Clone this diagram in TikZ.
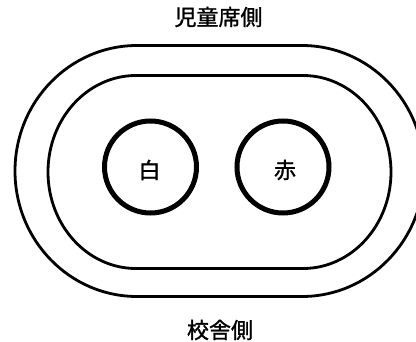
\documentclass[tikz,border=0pt]{standalone}
\usepackage{fontspec}
\newfontfamily\jp[FakeBold=1.2]{Noto Sans CJK JP}
\begin{document}
\begin{tikzpicture}[x=1pt,y=1pt,
  track/.style={line width=2.8pt},
  ring/.style={circle,draw,line width=5pt,minimum size=92pt,inner sep=0pt},
  lbl/.style={font=\jp\fontsize{22}{24}\selectfont,inner sep=0pt}]
\useasboundingbox (0,0) rectangle (416,341);
\clip (0,0) rectangle (416,341);
% outer track
\draw[track] (137,295.5) -- (302,295.5)
  arc[start angle=90,end angle=-90,x radius=122,y radius=125.5]
  -- (137,44.5)
  arc[start angle=270,end angle=90,x radius=122,y radius=125.5] -- cycle;
% inner track
\draw[track] (136,265.5) -- (303,265.5)
  arc[start angle=90,end angle=-90,x radius=88,y radius=96.5]
  -- (136,72.5)
  arc[start angle=270,end angle=90,x radius=88,y radius=96.5] -- cycle;
\node[ring] (white) at (150.5,174) {};
\node[ring] (red) at (283,174) {};
\node[lbl] (wt) at (149.5,171) {白};
\node[lbl] (rt) at (285,171) {赤};
\node[lbl] (top) at (218.5,324) {児童席側};
\node[lbl] (bot) at (220,11) {校舎側};
\end{tikzpicture}
\end{document}
